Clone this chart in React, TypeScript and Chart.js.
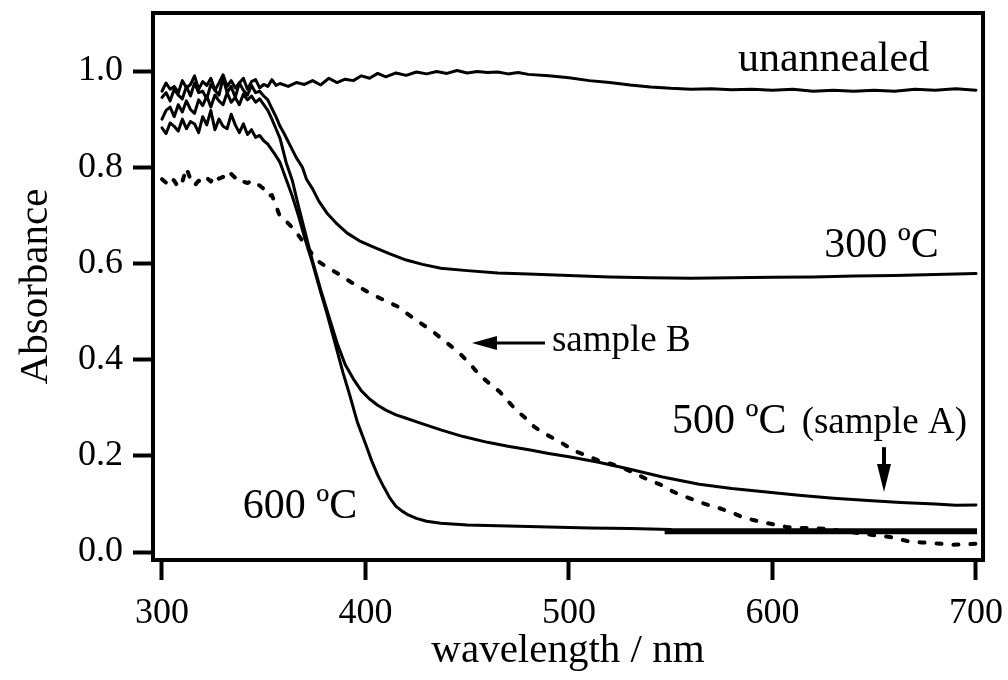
import { useEffect, useRef } from "react";
import { Chart, registerables } from "chart.js";

Chart.register(...registerables);

const FONT = '"Liberation Serif", "Times New Roman", Times, serif';

const xTickValues = [300, 400, 500, 600, 700];
const yTickValues = [0, 0.2, 0.4, 0.6, 0.8, 1.0];

const unannealedWl = [300, 302, 304, 306, 308, 310, 312, 314, 316, 318, 320, 322, 324, 326, 328, 330, 332, 334, 336, 338, 340, 342, 344, 346, 348, 350, 352, 354, 356, 358, 362, 366, 370, 374, 378, 382, 386, 390, 394, 398, 402, 406, 410, 415, 420, 425, 430, 435, 440, 445, 450, 455, 460, 465, 470, 475, 480, 490, 500, 510, 520, 530, 540, 550, 560, 570, 580, 590, 600, 610, 620, 630, 640, 650, 660, 670, 680, 690, 700];
const unannealedAbs = [0.958, 0.975, 0.962, 0.968, 0.955, 0.98, 0.965, 0.972, 0.99, 0.962, 0.978, 0.97, 0.985, 0.96, 0.975, 0.992, 0.968, 0.98, 0.965, 0.975, 0.985, 0.962, 0.978, 0.982, 0.965, 0.972, 0.968, 0.982, 0.97, 0.974, 0.968, 0.976, 0.972, 0.98, 0.971, 0.985, 0.976, 0.983, 0.98, 0.99, 0.985, 0.995, 0.988, 0.996, 0.991, 0.998, 0.994, 0.999, 0.995, 1.001, 0.996, 0.999, 0.997, 0.998, 0.994, 0.997, 0.993, 0.99, 0.986, 0.98, 0.976, 0.971, 0.967, 0.964, 0.962, 0.963, 0.961, 0.962, 0.96, 0.962, 0.958, 0.96, 0.958, 0.96, 0.958, 0.962, 0.96, 0.963, 0.96];

const c300Wl = [300, 302, 304, 306, 308, 310, 312, 314, 316, 318, 320, 322, 324, 326, 328, 330, 332, 334, 336, 338, 340, 342, 344, 346, 348, 350, 352, 354, 356, 358, 360, 363, 366, 369, 371, 374, 377, 381, 386, 391, 397, 404, 412, 420, 428, 437, 450, 465, 480, 500, 520, 540, 560, 580, 600, 620, 640, 660, 680, 700];
const c300Abs = [0.945, 0.955, 0.938, 0.962, 0.95, 0.942, 0.968, 0.948, 0.975, 0.955, 0.958, 0.942, 0.972, 0.96, 0.95, 0.985, 0.955, 0.968, 0.945, 0.975, 0.96, 0.95, 0.97, 0.955, 0.958, 0.948, 0.94, 0.922, 0.905, 0.885, 0.87, 0.845, 0.82, 0.8, 0.775, 0.755, 0.73, 0.705, 0.682, 0.663, 0.647, 0.634, 0.62, 0.607, 0.598, 0.59, 0.585, 0.58, 0.578, 0.575, 0.572, 0.57, 0.569, 0.57, 0.571, 0.572, 0.574, 0.575, 0.577, 0.579];

const c500Wl = [300, 302, 304, 306, 308, 310, 312, 314, 316, 318, 320, 322, 324, 326, 328, 330, 332, 334, 336, 338, 340, 342, 344, 346, 348, 350, 352, 354, 356, 358, 361, 364, 367, 370, 374, 378, 382, 386, 390, 394, 398, 402, 406, 410, 415, 420, 427, 437, 448, 460, 470, 481, 490, 500, 514, 530, 546, 564, 580, 597, 613, 630, 647, 663, 680, 690, 700];
const c500Abs = [0.9, 0.918, 0.925, 0.905, 0.93, 0.915, 0.938, 0.92, 0.912, 0.94, 0.928, 0.948, 0.925, 0.95, 0.938, 0.93, 0.955, 0.935, 0.945, 0.93, 0.952, 0.94, 0.948, 0.935, 0.942, 0.93, 0.918, 0.9, 0.88, 0.86, 0.81, 0.773, 0.72, 0.67, 0.605, 0.545, 0.49, 0.435, 0.39, 0.36, 0.335, 0.318, 0.305, 0.295, 0.285, 0.278, 0.268, 0.254, 0.24, 0.228, 0.22, 0.212, 0.205, 0.198, 0.187, 0.172, 0.156, 0.141, 0.132, 0.125, 0.118, 0.112, 0.107, 0.103, 0.1, 0.097, 0.098];

const c600Wl = [300, 302, 304, 306, 308, 310, 312, 314, 316, 318, 320, 322, 324, 326, 328, 330, 332, 334, 336, 338, 340, 342, 344, 346, 348, 350, 352, 355, 358, 361, 364, 367, 370, 374, 378, 381, 385, 389, 392, 396, 400, 403, 406, 409, 412, 415, 418, 421, 425, 430, 437, 450, 470, 490, 510, 530, 550];
const c600Abs = [0.882, 0.87, 0.892, 0.885, 0.875, 0.9, 0.88, 0.895, 0.89, 0.872, 0.905, 0.888, 0.918, 0.878, 0.9, 0.885, 0.88, 0.91, 0.888, 0.872, 0.89, 0.868, 0.878, 0.862, 0.866, 0.855, 0.848, 0.83, 0.81, 0.775, 0.74, 0.7, 0.655, 0.6, 0.54, 0.497, 0.435, 0.372, 0.33, 0.27, 0.225, 0.19, 0.16, 0.135, 0.112, 0.095, 0.085, 0.077, 0.07, 0.064, 0.06, 0.056, 0.054, 0.052, 0.05, 0.049, 0.047];

const c600TailWl = [547, 700.5];
const c600TailAbs = [0.043, 0.043];

const sampleBWl = [300, 302, 304, 306, 308, 310, 312, 314, 316, 318, 320, 322, 324, 326, 328, 330, 332, 334, 336, 338, 340, 342, 344, 346, 348, 350, 352, 354, 356, 358, 361, 365, 368, 372, 376, 381, 386, 391, 396, 401, 406, 411, 416, 421, 427, 432, 437, 442, 447, 452, 456, 461, 466, 470, 474, 479, 483, 488, 494, 499, 504, 509, 514, 520, 525, 530, 534, 540, 545, 550, 554, 559, 564, 569, 574, 580, 585, 590, 595, 601, 607, 612, 617, 622, 627, 632, 636, 641, 646, 652, 658, 663, 668, 673, 677, 683, 689, 695, 700];
const sampleBAbs = [0.775, 0.768, 0.78, 0.772, 0.758, 0.77, 0.798, 0.775, 0.762, 0.772, 0.768, 0.778, 0.77, 0.784, 0.776, 0.78, 0.774, 0.786, 0.778, 0.78, 0.77, 0.767, 0.772, 0.765, 0.762, 0.755, 0.74, 0.742, 0.72, 0.697, 0.688, 0.67, 0.653, 0.63, 0.607, 0.592, 0.58, 0.566, 0.553, 0.541, 0.53, 0.52, 0.51, 0.494, 0.476, 0.462, 0.445, 0.428, 0.41, 0.388, 0.368, 0.35, 0.333, 0.314, 0.295, 0.277, 0.26, 0.246, 0.233, 0.22, 0.208, 0.2, 0.191, 0.184, 0.177, 0.168, 0.16, 0.148, 0.14, 0.128, 0.12, 0.112, 0.104, 0.097, 0.091, 0.082, 0.073, 0.067, 0.062, 0.057, 0.052, 0.05, 0.05, 0.049, 0.048, 0.045, 0.043, 0.04, 0.037, 0.034, 0.031, 0.026, 0.021, 0.02, 0.019, 0.017, 0.015, 0.016, 0.017];

const seriesLabels = ["unannealed", "300 ºC", "500 ºC", "600 ºC", "600 ºC tail", "sample B"];

function pts(wl: number[], ab: number[]) {
  return wl.map((x, i) => ({ x, y: ab[i] }));
}

const overlayPlugin = {
  id: "overlay",
  afterDatasetsDraw(chart: any) {
    const { ctx, chartArea, scales } = chart;
    const xs = scales.x;
    const ys = scales.y;
    const px = (v: number) => xs.getPixelForValue(v);
    const py = (v: number) => ys.getPixelForValue(v);
    ctx.save();
    ctx.strokeStyle = "#000";
    ctx.lineWidth = 4;
    ctx.strokeRect(chartArea.left, chartArea.top, chartArea.right - chartArea.left, chartArea.bottom - chartArea.top);

    ctx.fillStyle = "#000";
    ctx.textBaseline = "alphabetic";
    const text = (s: string, wl: number, ab: number, size: number, align: CanvasTextAlign) => {
      ctx.font = `${size}px ${FONT}`;
      ctx.textAlign = align;
      ctx.fillText(s, px(wl), py(ab));
    };
    text("unannealed", 630, 1.001, 42, "center");
    text("300 ºC", 653.6, 0.614, 42, "center");
    text("500 ºC", 550.6, 0.247, 42, "left");
    text("(sample A)", 695.6, 0.247, 37, "right");
    text("600 ºC", 367.8, 0.071, 42, "center");
    text("sample B", 491.6, 0.418, 37, "left");

    const ay = py(0.4345);
    const tipX = px(452.3);
    const tailX = px(488.2);
    ctx.lineWidth = 3;
    ctx.beginPath();
    ctx.moveTo(tailX, ay);
    ctx.lineTo(tipX + 20, ay);
    ctx.stroke();
    ctx.beginPath();
    ctx.moveTo(tipX, ay);
    ctx.lineTo(tipX + 25, ay - 7);
    ctx.lineTo(tipX + 25, ay + 7);
    ctx.closePath();
    ctx.fill();

    const dx = px(654.8);
    const topY = py(0.218);
    const tipY = py(0.125);
    ctx.lineWidth = 4;
    ctx.beginPath();
    ctx.moveTo(dx, topY);
    ctx.lineTo(dx, tipY - 22);
    ctx.stroke();
    ctx.beginPath();
    ctx.moveTo(dx, tipY);
    ctx.lineTo(dx - 7, tipY - 28);
    ctx.lineTo(dx + 7, tipY - 28);
    ctx.closePath();
    ctx.fill();
    ctx.restore();
  },
};

export default function App() {
  const ref = useRef<HTMLCanvasElement | null>(null);
  useEffect(() => {
    if (!ref.current) return;
    const solid = (label: string, data: any[], width = 3) => ({
      label,
      data,
      borderColor: "#000",
      backgroundColor: "#000",
      borderWidth: width,
      pointRadius: 0,
      tension: 0,
      fill: false,
      borderJoinStyle: "round" as const,
      borderCapStyle: "round" as const,
    });
    const chart = new Chart(ref.current, {
      type: "line",
      data: {
        datasets: [
          solid(seriesLabels[0], pts(unannealedWl, unannealedAbs)),
          solid(seriesLabels[1], pts(c300Wl, c300Abs)),
          solid(seriesLabels[2], pts(c500Wl, c500Abs)),
          solid(seriesLabels[3], pts(c600Wl, c600Abs)),
          { ...solid(seriesLabels[4], pts(c600TailWl, c600TailAbs), 6), borderCapStyle: "butt" as const },
          {
            ...solid(seriesLabels[5], pts(sampleBWl, sampleBAbs), 4),
            borderDash: [5, 12],
          },
        ],
      },
      options: {
        animation: false,
        responsive: false,
        devicePixelRatio: 1,
        parsing: false as any,
        layout: { padding: { top: 13, right: 25, bottom: 0, left: 0 } },
        plugins: { legend: { display: false }, tooltip: { enabled: false } },
        scales: {
          x: {
            type: "linear",
            min: 295.58,
            max: 703.44,
            afterBuildTicks: (s: any) => {
              s.ticks = xTickValues.map((v) => ({ value: v }));
            },
            afterFit: (s: any) => {
              s.height = 120;
              s.paddingLeft = 0;
              s.paddingRight = 0;
            },
            ticks: {
              color: "#000",
              font: { family: FONT, size: 36 },
              padding: 12,
              maxRotation: 0,
              autoSkip: false,
              callback: (v: any) => String(v),
            },
            grid: {
              display: true,
              drawOnChartArea: false,
              drawTicks: true,
              tickLength: 20,
              tickWidth: 4,
              tickColor: "#000",
            },
            border: { display: false },
            title: {
              display: true,
              text: "wavelength / nm",
              color: "#000",
              font: { family: FONT, size: 41 },
              padding: { top: 0, bottom: 4 },
            },
          },
          y: {
            type: "linear",
            min: -0.0166,
            max: 1.1206,
            afterBuildTicks: (s: any) => {
              s.ticks = yTickValues.map((v) => ({ value: v }));
            },
            afterFit: (s: any) => {
              s.width = 153;
              s.paddingTop = 0;
              s.paddingBottom = 0;
            },
            ticks: {
              color: "#000",
              font: { family: FONT, size: 36 },
              padding: 10,
              autoSkip: false,
              callback: (v: any) => Number(v).toFixed(1),
            },
            grid: {
              display: true,
              drawOnChartArea: false,
              drawTicks: true,
              tickLength: 20,
              tickWidth: 4,
              tickColor: "#000",
            },
            border: { display: false },
            title: {
              display: true,
              text: "Absorbance",
              color: "#000",
              font: { family: FONT, size: 41 },
              padding: { top: 12, bottom: 0 },
            },
          },
        },
      },
      plugins: [overlayPlugin],
    });
    return () => chart.destroy();
  }, []);
  return (
    <div style={{ position: "absolute", left: 0, top: 0, width: 1008, height: 680, background: "#fff" }}>
      <canvas ref={ref} width={1008} height={680} style={{ display: "block" }} />
    </div>
  );
}
